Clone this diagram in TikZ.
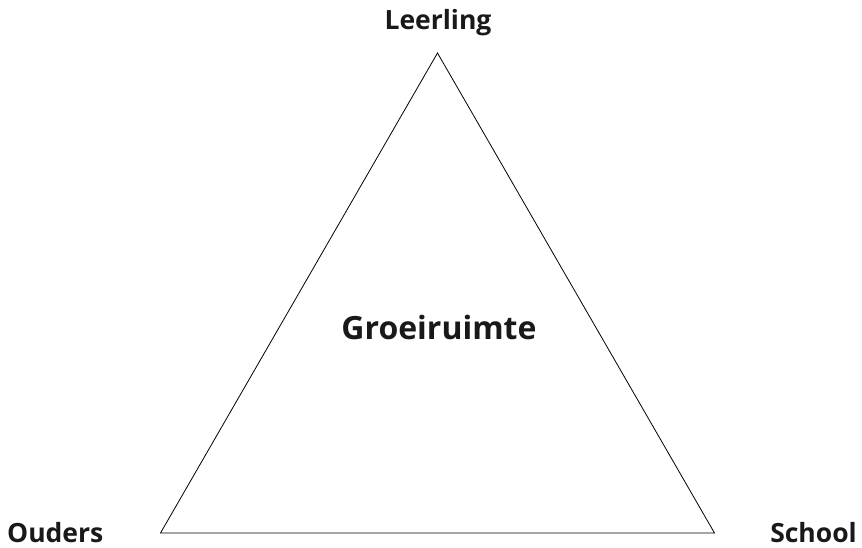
\documentclass[tikz,border=0pt]{standalone}
\usepackage{fontspec}
\setmainfont{Open Sans}
\begin{document}
\begin{tikzpicture}[x=1pt,y=-1pt,
  lbl/.style={font=\bfseries\fontsize{26.5}{30}\selectfont, text=black!90, inner sep=0pt},
  ctr/.style={font=\bfseries\fontsize{32}{38}\selectfont, text=black!90, inner sep=0pt},
  edge/.style={draw=black, line width=0.8pt, line join=miter}]
\useasboundingbox (0,0) rectangle (862,547);
\coordinate (top) at (437.5,53);
\coordinate (bl) at (160.5,533);
\coordinate (br) at (714.5,533);
\draw[edge] (top) -- (bl) -- (br) -- cycle;
\node[lbl, anchor=base] (leerling) at (438,29) {Leerling};
\node[lbl, anchor=base west] (ouders) at (7,542) {Ouders};
\node[lbl, anchor=base east] (school) at (857,542) {School};
\node[ctr, anchor=base] (groei) at (439,339) {Groeiruimte};
\end{tikzpicture}
\end{document}
